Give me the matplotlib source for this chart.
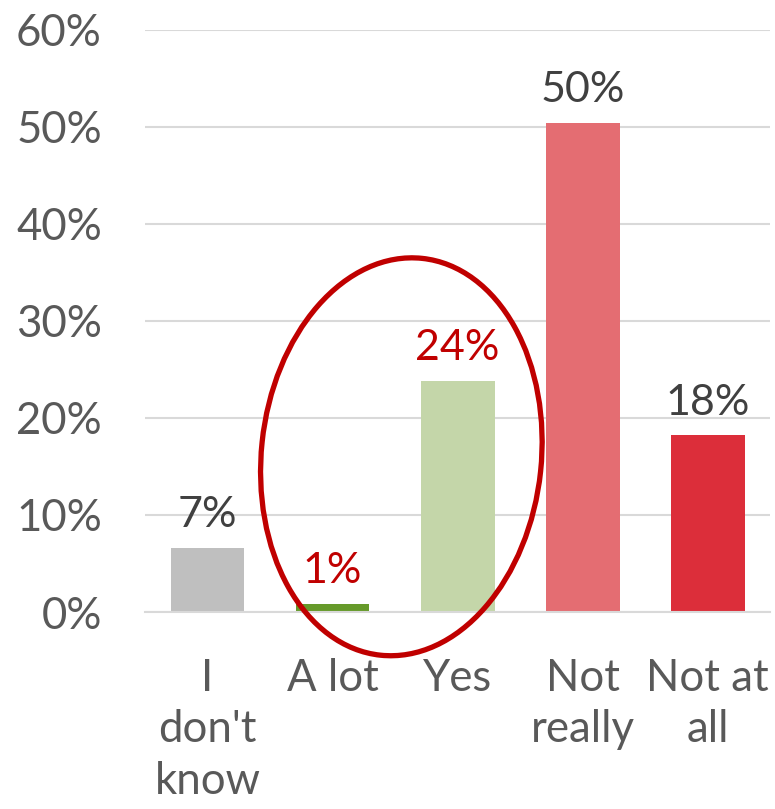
import numpy as np
import matplotlib
matplotlib.use("Agg")
import matplotlib.pyplot as plt
from matplotlib.patches import Ellipse

categories = ["I\ndon't\nknow", "A lot", "Yes", "Not\nreally", "Not at\nall"]
values = [6.6, 0.8, 23.8, 50.4, 18.2]
labels = ["7%", "1%", "24%", "50%", "18%"]
bar_colors = ["#BFBFBF", "#669A2A", "#C4D6A9", "#E46D72", "#DC2E3A"]
label_colors = ["#404040", "#C00000", "#C00000", "#404040", "#404040"]
yticks = [0, 10, 20, 30, 40, 50, 60]

plt.rcParams['font.family'] = ['Lato', 'DejaVu Sans']

fig = plt.figure(figsize=(7.75, 8.09), dpi=100)
ax = fig.add_axes([0.187, 0.2435, 0.807, 0.7195])

x = np.arange(len(categories))
ax.bar(x, values, width=0.59, color=bar_colors, zorder=3)

for xi, v, lab, c in zip(x, values, labels, label_colors):
    ax.annotate(lab, (xi, v), xytext=(0, 10), textcoords="offset points",
                ha="center", va="bottom", fontsize=31, color=c, zorder=4)

ax.set_xlim(-0.5, 4.5)
ax.set_ylim(0, 60)
ax.set_yticks(yticks)
ax.set_yticklabels([f"{t}%" for t in yticks])
ax.set_xticks(x)
ax.set_xticklabels(categories, linespacing=1.32)
ax.tick_params(axis="y", length=0, pad=31, labelsize=31.5, labelcolor="#595959")
ax.tick_params(axis="x", length=0, pad=33, labelsize=31.5, labelcolor="#595959")
ax.yaxis.grid(True, color="#D9D9D9", linewidth=1.5, zorder=0)
for s in ["top", "right", "left"]:
    ax.spines[s].set_visible(False)
ax.spines["bottom"].set_color("#D9D9D9")
ax.spines["bottom"].set_linewidth(1.5)
ax.spines["bottom"].set_zorder(3.5)

# red ellipse around "A lot" and "Yes", drawn in display pixels
cx, cy = ax.transData.transform((1.55, 16.0))
ell = Ellipse((cx, cy), 280, 399, angle=-6, fill=False, edgecolor="#C00000",
              linewidth=3.8, transform=None, zorder=5, clip_on=False)
fig.add_artist(ell)

fig.savefig("out.png", dpi=100)
